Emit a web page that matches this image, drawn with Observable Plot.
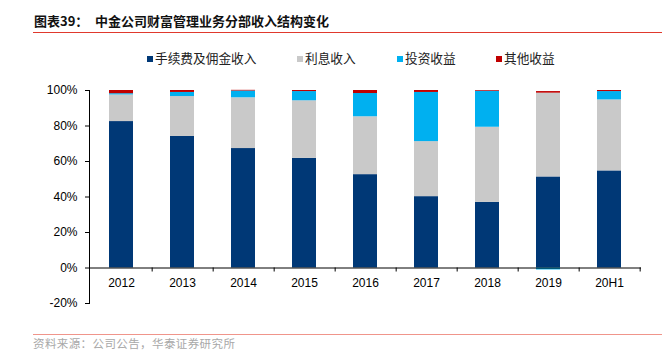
<!DOCTYPE html>
<html>
<head>
<meta charset="utf-8">
<script src="https://cdn.jsdelivr.net/npm/d3@7"></script>
<script src="https://cdn.jsdelivr.net/npm/@observablehq/plot@0.6"></script>
<style>
  html, body { margin: 0; padding: 0; background: #fff; }
  #wrap { position: relative; width: 662px; height: 351px; overflow: hidden; background: #fff; }
  #chart { position: absolute; left: 0; top: 0; }
  .title { position: absolute; top: 12px; left: 34px; font-family: "Noto Sans CJK SC", sans-serif; font-weight: bold; font-size: 13px; line-height: 18px; color: #111; white-space: nowrap; }
  .title .num { display: inline-block; width: 61px; }
  .rule-top { position: absolute; left: 33px; top: 31.5px; width: 629px; height: 1.5px; background: #e0392d; }
  .rule-bot { position: absolute; left: 33px; top: 333.5px; width: 629px; height: 1.5px; background: #f0958b; }
  .foot { position: absolute; left: 33px; top: 337px; font-family: "Noto Sans CJK SC", sans-serif; font-size: 11.5px; line-height: 13px; color: #a8a8a8; white-space: nowrap; letter-spacing: 0.4px; }
  .leg { position: absolute; top: 50px; font-family: "Noto Sans CJK SC", sans-serif; font-size: 12.7px; line-height: 16px; color: #222; white-space: nowrap; }
  .sw { position: absolute; top: 56px; width: 6px; height: 6px; }
</style>
</head>
<body>
<div id="wrap">
  <div id="chart"></div>
  <div class="title"><span class="num">图表39：</span>中金公司财富管理业务分部收入结构变化</div>
  <div class="rule-top"></div>
  <div id="legend"></div>
  <div class="rule-bot"></div>
  <div class="foot">资料来源：公司公告，华泰证券研究所</div>
</div>
<script>
// ---- data (percent of segment revenue) ----
const years = ["2012", "2013", "2014", "2015", "2016", "2017", "2018", "2019", "20H1"];
const seriesNames = ["手续费及佣金收入", "利息收入", "投资收益", "其他收益"];
const feeIncome      = [82.5, 74.1, 67.3, 61.8, 52.6, 40.2, 37.0, 51.3, 54.7];
const interestIncome = [15.0, 22.5, 28.6, 32.4, 32.6, 31.0, 42.3, 47.2, 40.0];
const investIncome   = [0.7, 2.3, 3.8, 5.2, 13.1, 27.7, 20.3, -1.1, 4.7];
const otherIncome    = [1.8, 1.1, 0.4, 0.6, 1.7, 1.1, 0.4, 0.9, 0.6];
const yTicks = [-20, 0, 20, 40, 60, 80, 100];
const colors = ["#003876", "#c9c9c9", "#00b0f0", "#c00000"];

const seriesValues = [feeIncome, interestIncome, investIncome, otherIncome];
const rows = [];
seriesNames.forEach((s, si) => {
  years.forEach((y, yi) => rows.push({year: y, series: s, value: seriesValues[si][yi]}));
});

const W = 662, H = 351, ML = 89, MR = 21, MT = 90, MB = 48;
const step = (W - ML - MR) / years.length;

const chart = Plot.plot({
  width: W,
  height: H,
  marginTop: MT,
  marginBottom: MB,
  marginLeft: ML,
  marginRight: MR,
  style: {fontFamily: "'Liberation Sans', Arial, sans-serif", fontSize: "12px", color: "#000", background: "transparent"},
  x: {domain: years, paddingInner: 0.6, paddingOuter: 0.3, axis: null},
  y: {domain: [-20, 100], ticks: yTicks, tickFormat: d => d + "%", tickSize: 4, tickPadding: 8, label: null, line: true},
  color: {domain: seriesNames, range: colors},
  marks: [
    Plot.barY(rows, {x: "year", y: "value", fill: "series", order: null}),
    Plot.ruleY([0], {stroke: "#000", strokeWidth: 1}),
    Plot.ruleX(years, {x: d => d, y1: 0, y2: 0, dx: step / 2, insetBottom: -4, stroke: "#000"}),
    Plot.text(years, {x: d => d, y: 0, dy: 15, text: d => d, fill: "#000", fontSize: 12})
  ]
});
document.getElementById("chart").appendChild(chart);

// legend
const legendX = [147, 297, 397, 496];
const legend = document.getElementById("legend");
seriesNames.forEach((s, i) => {
  const sw = document.createElement("div");
  sw.className = "sw";
  sw.style.left = legendX[i] + "px";
  sw.style.background = colors[i];
  legend.appendChild(sw);
  const t = document.createElement("div");
  t.className = "leg";
  t.style.left = (legendX[i] + 8) + "px";
  t.textContent = s;
  legend.appendChild(t);
});
</script>
</body>
</html>
